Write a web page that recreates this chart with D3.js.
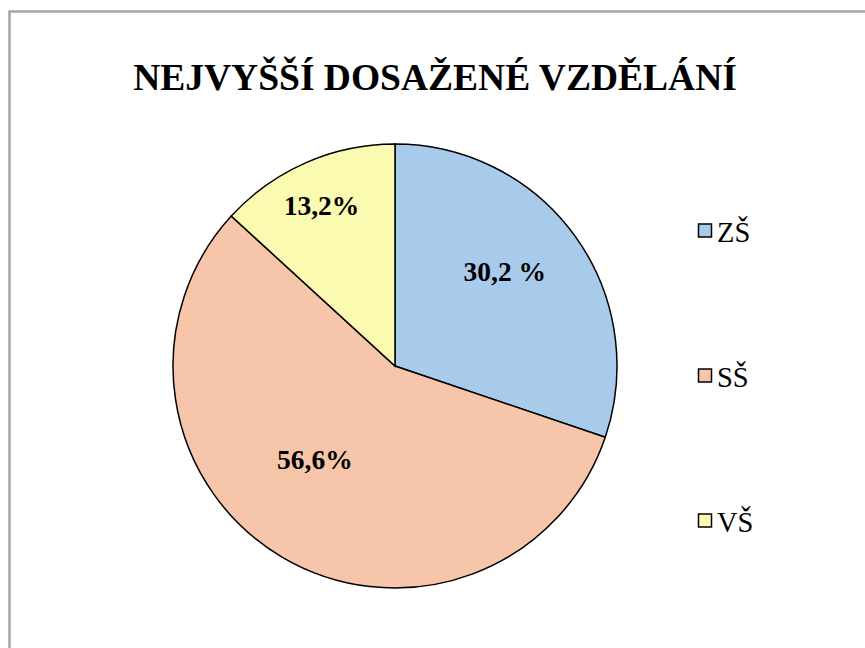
<!DOCTYPE html>
<html><head><meta charset="utf-8">
<script src="https://cdn.jsdelivr.net/npm/d3@7"></script>
<style>html,body{margin:0;padding:0;background:#fff;}svg{display:block;}</style>
</head><body>
<svg id="c" width="865" height="648"></svg>
<script>
const categories = ["ZŠ", "SŠ", "VŠ"];
const values = [30.2, 56.6, 13.2];
const labels = ["30,2 %", "56,6%", "13,2%"];
const colors = ["#a8caeb", "#f7c6aa", "#fafab0"];
const title = "NEJVYŠŠÍ DOSAŽENÉ VZDĚLÁNÍ";
const FONT = '"Liberation Serif"';

const svg = d3.select("#c");
svg.append("rect").attr("x", 9.5).attr("y", 11.5).attr("width", 900).attr("height", 700)
  .attr("fill", "#fff").attr("stroke", "#a6a6a6").attr("stroke-width", 2.5);

svg.append("text").attr("x", 435).attr("y", 90).attr("text-anchor", "middle")
  .style("font-family", FONT).style("font-weight", "bold").style("font-size", "37.5px")
  .attr("fill", "#000").text(title);

const cx = 395, cy = 366, r = 222;
const data = categories.map((c, i) => ({cat: c, value: values[i], label: labels[i], color: colors[i]}));
const pie = d3.pie().value(d => d.value).sort(null);
const arcs = pie(data);
const arc = d3.arc().innerRadius(0).outerRadius(r);
const g = svg.append("g").attr("transform", `translate(${cx},${cy})`);
g.selectAll("path").data(arcs).join("path").attr("d", arc)
  .attr("fill", d => d.data.color).attr("stroke", "#000").attr("stroke-width", 1.5);

const labelArc = d3.arc().innerRadius(r * 0.62).outerRadius(r * 0.62);
const offs = [[-2, -14], [-10, -25], [-18, -34]];
g.selectAll("text.lbl").data(arcs).join("text").attr("class", "lbl")
  .attr("transform", (d, i) => { const p = labelArc.centroid(d); return `translate(${p[0] + offs[i][0]},${p[1] + offs[i][1]})`; })
  .attr("text-anchor", "middle").attr("dy", "0.33em")
  .style("font-family", FONT).style("font-weight", "bold").style("font-size", "27.5px")
  .attr("fill", "#000").text(d => d.data.label);

const ly = d3.scalePoint().domain(categories).range([231, 521]);
const lg = svg.append("g");
categories.forEach((c, i) => {
  lg.append("rect").attr("x", 698.5).attr("y", ly(c) - 7).attr("width", 13).attr("height", 13)
    .attr("fill", colors[i]).attr("stroke", "#000").attr("stroke-width", 1.5);
  lg.append("text").attr("x", 717).attr("y", ly(c) + 11)
    .style("font-family", FONT).style("font-size", "28.5px")
    .attr("fill", "#000").text(c);
});
</script>
</body></html>
